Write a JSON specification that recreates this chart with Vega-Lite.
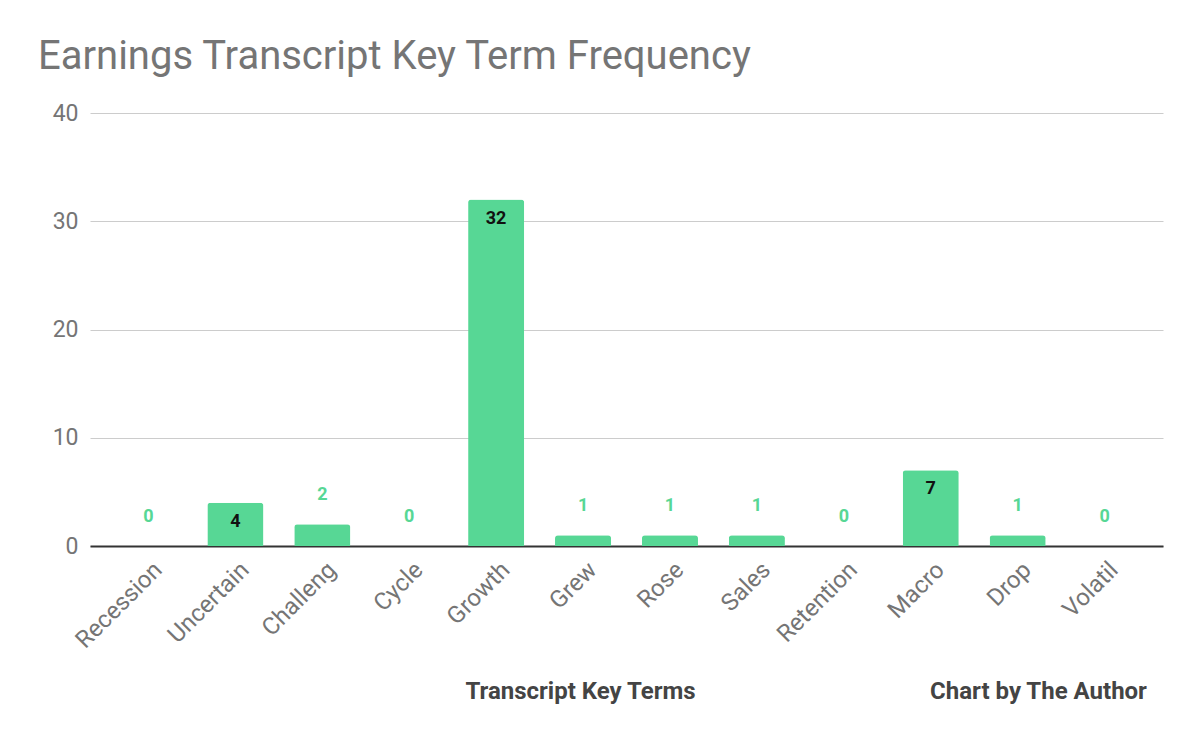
{
  "$schema": "https://vega.github.io/schema/vega-lite/v6.json",
  "autosize": "none",
  "width": 1073,
  "height": 433,
  "padding": {"left": 90, "top": 113, "right": 37, "bottom": 196},
  "background": "white",
  "title": {
    "text": "Earnings Transcript Key Term Frequency",
    "anchor": "start",
    "frame": "group",
    "dx": -52,
    "offset": -7,
    "baseline": "alphabetic",
    "font": "Roboto",
    "fontSize": 40,
    "fontWeight": "normal",
    "color": "#757575"
  },
  "config": {
    "view": {"stroke": null},
    "font": "Roboto"
  },
  "data": {
    "values": [
      {"Term": "Recession", "Count": 0},
      {"Term": "Uncertain", "Count": 4},
      {"Term": "Challeng", "Count": 2},
      {"Term": "Cycle", "Count": 0},
      {"Term": "Growth", "Count": 32},
      {"Term": "Grew", "Count": 1},
      {"Term": "Rose", "Count": 1},
      {"Term": "Sales", "Count": 1},
      {"Term": "Retention", "Count": 0},
      {"Term": "Macro", "Count": 7},
      {"Term": "Drop", "Count": 1},
      {"Term": "Volatil", "Count": 0}
    ]
  },
  "resolve": {"scale": {"x": "independent"}, "axis": {"x": "independent"}},
  "layer": [
    {
      "layer": [
        {
          "mark": {"type": "bar", "color": "#57d795", "cornerRadiusTopLeft": 3, "cornerRadiusTopRight": 3},
          "encoding": {
            "x": {
              "field": "Term", "type": "nominal", "sort": null,
              "scale": {"domain": ["Recession","Uncertain","Challeng","Cycle","Growth","Grew","Rose","Sales","Retention","Macro","Drop","Volatil"], "paddingInner": 0.355, "paddingOuter": 0.35},
              "axis": {
                "title": "Transcript Key Terms",
                "titleFont": "Roboto", "titleFontSize": 24, "titleFontWeight": "bold", "titleColor": "#444444",
                "titleX": 490, "titleY": 152, "titleBaseline": "alphabetic", "titleAlign": "center",
                "labelAngle": -45, "labelAlign": "right", "labelBaseline": "middle",
                "labelFont": "Roboto", "labelFontSize": 24, "labelColor": "#757575", "labelPadding": 20, "labelOffset": 10,
                "ticks": false, "domainColor": "#333333", "domainWidth": 2, "grid": false
              }
            },
            "y": {
              "field": "Count", "type": "quantitative",
              "scale": {"domain": [0, 40]},
              "axis": {
                "title": null, "values": [0, 10, 20, 30, 40],
                "labelFont": "Roboto", "labelFontSize": 23, "labelColor": "#757575", "labelPadding": 12,
                "ticks": false, "domain": false, "gridColor": "#cccccc", "gridWidth": 1
              }
            }
          }
        },
        {
          "transform": [{"filter": "datum.Count >= 4"}],
          "mark": {"type": "text", "dy": 19, "baseline": "middle", "align": "center", "fontSize": 18, "fontWeight": "bold", "color": "#111111"},
          "encoding": {
            "x": {"field": "Term", "type": "nominal", "sort": null},
            "y": {"field": "Count", "type": "quantitative"},
            "text": {"field": "Count", "type": "quantitative"}
          }
        },
        {
          "transform": [{"filter": "datum.Count < 4"}],
          "mark": {"type": "text", "dy": -29, "baseline": "middle", "align": "center", "fontSize": 18, "fontWeight": "bold", "color": "#57d795"},
          "encoding": {
            "x": {"field": "Term", "type": "nominal", "sort": null},
            "y": {"field": "Count", "type": "quantitative"},
            "text": {"field": "Count", "type": "quantitative"}
          }
        }
      ]
    },
    {
      "mark": {"type": "tick", "opacity": 0},
      "encoding": {
        "x": {
          "field": "Term", "type": "nominal", "sort": null,
          "axis": {
            "orient": "top", "title": "Chart by The Author",
            "titleFont": "Roboto", "titleFontSize": 24, "titleFontWeight": "bold", "titleColor": "#444444",
            "titleX": 948, "titleY": 585, "titleBaseline": "alphabetic", "titleAlign": "center",
            "labels": false, "ticks": false, "domain": false, "grid": false
          }
        }
      }
    }
  ]
}
